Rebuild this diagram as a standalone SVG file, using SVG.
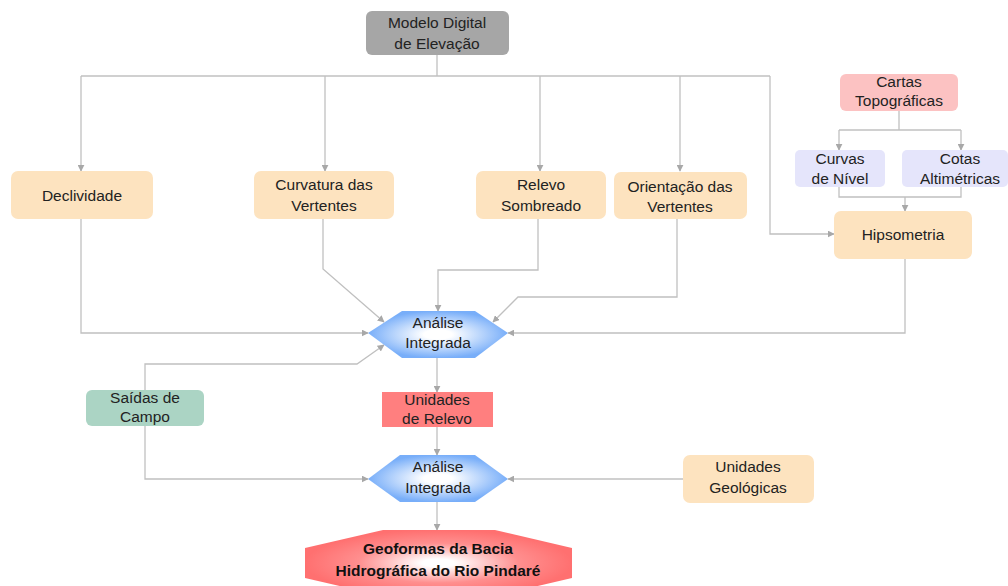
<svg xmlns="http://www.w3.org/2000/svg" width="1008" height="586" viewBox="0 0 1008 586">
<style>
text{font-family:"Liberation Sans",Arial,sans-serif;font-size:15.5px;fill:#222;text-anchor:middle}
.b{font-weight:bold;fill:#111}
.peach{fill:#fde3bf}
.c{fill:none;stroke:#c0c0c0;stroke-width:1.3}
</style>
<defs>
<marker id="ar" viewBox="0 0 10 10" refX="9" refY="5" markerWidth="7" markerHeight="7" orient="auto" markerUnits="userSpaceOnUse">
<path d="M0,0 L10,5 L0,10 z" fill="#a8a8a8"/>
</marker>
<radialGradient id="gb" cx="0.5" cy="0.5" r="0.5">
<stop offset="0.2" stop-color="#ffffff"/>
<stop offset="1" stop-color="#78aef9"/>
</radialGradient>
<radialGradient id="gr" cx="0.5" cy="0.5" r="0.5">
<stop offset="0.12" stop-color="#ffffff"/>
<stop offset="0.6" stop-color="#ff8f8f"/>
<stop offset="1" stop-color="#ff7070"/>
</radialGradient>
</defs>
<g id="connectors">
<path class="c" d="M437,55 V76"/>
<path class="c" d="M81,76 H770"/>
<path class="c" d="M81,76 V171" marker-end="url(#ar)"/>
<path class="c" d="M325,76 V171" marker-end="url(#ar)"/>
<path class="c" d="M540,76 V171" marker-end="url(#ar)"/>
<path class="c" d="M680,76 V171" marker-end="url(#ar)"/>
<path class="c" d="M770,76 V234 H834" marker-end="url(#ar)"/>
<path class="c" d="M899,111 V130"/>
<path class="c" d="M839,130 H961"/>
<path class="c" d="M839,130 V150" marker-end="url(#ar)"/>
<path class="c" d="M961,130 V150" marker-end="url(#ar)"/>
<path class="c" d="M839,187 V197 H961 V187"/>
<path class="c" d="M905,197 V211" marker-end="url(#ar)"/>
<path class="c" d="M81,219 V333 H368" marker-end="url(#ar)"/>
<path class="c" d="M323,219 V269 L384,322" marker-end="url(#ar)"/>
<path class="c" d="M538,219 V270 H438 V311" marker-end="url(#ar)"/>
<path class="c" d="M677,219 V297 H518 L493,322" marker-end="url(#ar)"/>
<path class="c" d="M905,259 V333 H508" marker-end="url(#ar)"/>
<path class="c" d="M145,390 V364 H357 L384,345" marker-end="url(#ar)"/>
<path class="c" d="M437,358 V392" marker-end="url(#ar)"/>
<path class="c" d="M437,427 V455" marker-end="url(#ar)"/>
<path class="c" d="M145,426 V479 H368" marker-end="url(#ar)"/>
<path class="c" d="M683,479 H508" marker-end="url(#ar)"/>
<path class="c" d="M437,502 V530" marker-end="url(#ar)"/>
</g>
<g id="modelo">
<rect x="366" y="11" width="143" height="44" rx="6" fill="#a6a6a6"/>
<text x="437" y="28">Modelo Digital</text>
<text x="437" y="49">de Elevação</text>
</g>
<g id="declividade">
<rect class="peach" x="11" y="171" width="142" height="48" rx="7"/>
<text x="82" y="201">Declividade</text>
</g>
<g id="curvatura">
<rect class="peach" x="254" y="171" width="140" height="48" rx="7"/>
<text x="324" y="190">Curvatura das</text>
<text x="324" y="211">Vertentes</text>
</g>
<g id="relevo">
<rect class="peach" x="476" y="171" width="130" height="48" rx="7"/>
<text x="541" y="190">Relevo</text>
<text x="541" y="211">Sombreado</text>
</g>
<g id="orientacao">
<rect class="peach" x="614" y="172" width="133" height="47" rx="7"/>
<text x="680" y="192">Orientação das</text>
<text x="680" y="212">Vertentes</text>
</g>
<g id="cartas">
<rect x="840" y="74" width="118" height="37" rx="6" fill="#fcc2c2"/>
<text x="899" y="87">Cartas</text>
<text x="899" y="106">Topográficas</text>
</g>
<g id="curvas">
<rect x="795" y="150" width="90" height="37" rx="5" fill="#e5e5fb"/>
<text x="840" y="164">Curvas</text>
<text x="840" y="184">de Nível</text>
</g>
<g id="cotas">
<rect x="902" y="150" width="106" height="37" rx="5" fill="#e5e5fb"/>
<text x="960" y="164">Cotas</text>
<text x="960" y="184">Altimétricas</text>
</g>
<g id="hipsometria">
<rect class="peach" x="834" y="211" width="138" height="48" rx="7"/>
<text x="903" y="240">Hipsometria</text>
</g>
<g id="analise1">
<polygon points="368,333 402,311 475,311 508,333 475,358 402,358" fill="url(#gb)"/>
<text x="438" y="328">Análise</text>
<text x="438" y="348">Integrada</text>
</g>
<g id="saidas">
<rect x="86" y="390" width="118" height="36" rx="6" fill="#abd4c4"/>
<text x="145" y="403">Saídas de</text>
<text x="145" y="422">Campo</text>
</g>
<g id="unidades-relevo">
<rect x="382" y="392" width="111" height="35" fill="#ff7f7f"/>
<text x="437" y="405">Unidades</text>
<text x="437" y="424">de Relevo</text>
</g>
<g id="analise2">
<polygon points="368,479 400,455 475,455 508,479 475,502 400,502" fill="url(#gb)"/>
<text x="438" y="472">Análise</text>
<text x="438" y="493">Integrada</text>
</g>
<g id="unidades-geologicas">
<rect class="peach" x="683" y="455" width="131" height="48" rx="7"/>
<text x="748" y="472">Unidades</text>
<text x="748" y="493">Geológicas</text>
</g>
<g id="geoformas">
<polygon points="305,548 383,530 495,530 572,548 572,578 495,596 383,596 305,578" fill="url(#gr)"/>
<text class="b" x="438" y="554">Geoformas da Bacia</text>
<text class="b" x="438" y="576">Hidrográfica do Rio Pindaré</text>
</g>
</svg>
